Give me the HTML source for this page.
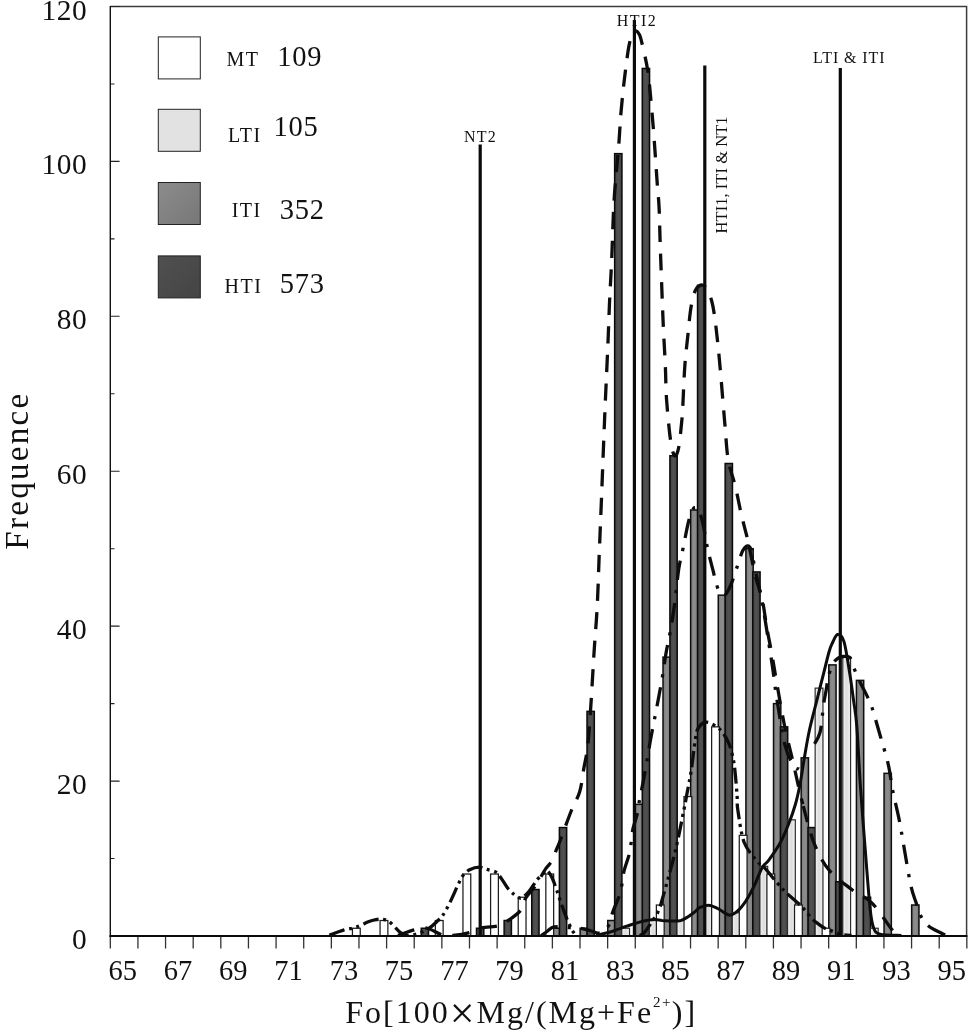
<!DOCTYPE html>
<html><head><meta charset="utf-8"><title>Fo histogram</title>
<style>html,body{margin:0;padding:0;background:#fff}svg{display:block;will-change:transform;filter:blur(0.4px)}text{font-family:"Liberation Serif",serif;fill:#111}</style></head><body>
<svg width="969" height="1033" viewBox="0 0 969 1033">
<defs>
<linearGradient id="gI" x1="0" x2="1" y1="0" y2="0"><stop offset="0" stop-color="#7c7c7c"/><stop offset="0.5" stop-color="#8e8e8e"/><stop offset="1" stop-color="#7c7c7c"/></linearGradient>
<linearGradient id="gH" x1="0" x2="1" y1="0" y2="0"><stop offset="0" stop-color="#434343"/><stop offset="0.5" stop-color="#525252"/><stop offset="1" stop-color="#434343"/></linearGradient>
<linearGradient id="gL" x1="0" x2="1" y1="0" y2="0"><stop offset="0" stop-color="#f2f2f2"/><stop offset="0.5" stop-color="#dcdcdc"/><stop offset="1" stop-color="#f2f2f2"/></linearGradient>
<linearGradient id="gM" x1="0" x2="1" y1="0" y2="0"><stop offset="0" stop-color="#fff"/><stop offset="1" stop-color="#fff"/></linearGradient>
<linearGradient id="sI" x1="0" x2="1" y1="0" y2="1"><stop offset="0" stop-color="#8c8c8c"/><stop offset="1" stop-color="#777"/></linearGradient>
<linearGradient id="sH" x1="0" x2="1" y1="0" y2="1"><stop offset="0" stop-color="#505050"/><stop offset="1" stop-color="#444"/></linearGradient>
</defs>
<rect width="969" height="1033" fill="#fff"/>
<g fill="none">
<path d="M110.3 6.6H966.6V936.0" stroke="#3c3c3c" stroke-width="1.5"/>
<path d="M110.30 936.0v12.5M137.93 936.0v12.5M165.56 936.0v12.5M193.19 936.0v12.5M220.82 936.0v12.5M248.45 936.0v12.5M276.08 936.0v12.5M303.71 936.0v12.5M331.34 936.0v12.5M358.97 936.0v12.5M386.60 936.0v12.5M414.23 936.0v12.5M441.86 936.0v12.5M469.49 936.0v12.5M497.12 936.0v12.5M524.75 936.0v12.5M552.38 936.0v12.5M580.01 936.0v12.5M607.64 936.0v12.5M635.27 936.0v12.5M662.90 936.0v12.5M690.53 936.0v12.5M718.16 936.0v12.5M745.79 936.0v12.5M773.42 936.0v12.5M801.05 936.0v12.5M828.68 936.0v12.5M856.31 936.0v12.5M883.94 936.0v12.5M911.57 936.0v12.5M939.20 936.0v12.5M966.83 936.0v12.5" stroke="#333" stroke-width="1.3"/>
<path d="M110.3 936.00h9.3M110.3 858.54h4.2M110.3 781.08h9.3M110.3 703.62h4.2M110.3 626.16h9.3M110.3 548.70h4.2M110.3 471.24h9.3M110.3 393.78h4.2M110.3 316.32h9.3M110.3 238.86h4.2M110.3 161.40h9.3M110.3 83.94h4.2M110.3 6.48h9.3" stroke="#222" stroke-width="1.1"/>
</g>
<g>
<rect x="552.48" y="928.25" width="7.30" height="7.75" fill="url(#gI)" stroke="#0e0e0e" stroke-width="1.5"/>
<rect x="580.11" y="928.25" width="7.30" height="7.75" fill="url(#gI)" stroke="#0e0e0e" stroke-width="1.5"/>
<rect x="607.74" y="920.51" width="7.30" height="15.49" fill="url(#gI)" stroke="#0e0e0e" stroke-width="1.5"/>
<rect x="635.37" y="804.32" width="7.30" height="131.68" fill="url(#gI)" stroke="#0e0e0e" stroke-width="1.5"/>
<rect x="663.00" y="657.14" width="7.30" height="278.86" fill="url(#gI)" stroke="#0e0e0e" stroke-width="1.5"/>
<rect x="690.63" y="509.97" width="7.30" height="426.03" fill="url(#gI)" stroke="#0e0e0e" stroke-width="1.5"/>
<rect x="718.26" y="595.18" width="7.30" height="340.82" fill="url(#gI)" stroke="#0e0e0e" stroke-width="1.5"/>
<rect x="745.89" y="548.70" width="7.30" height="387.30" fill="url(#gI)" stroke="#0e0e0e" stroke-width="1.5"/>
<rect x="773.52" y="703.62" width="7.30" height="232.38" fill="url(#gI)" stroke="#0e0e0e" stroke-width="1.5"/>
<rect x="801.15" y="757.84" width="7.30" height="178.16" fill="url(#gI)" stroke="#0e0e0e" stroke-width="1.5"/>
<rect x="828.78" y="664.89" width="7.30" height="271.11" fill="url(#gI)" stroke="#0e0e0e" stroke-width="1.5"/>
<rect x="856.41" y="680.38" width="7.30" height="255.62" fill="url(#gI)" stroke="#0e0e0e" stroke-width="1.5"/>
<rect x="884.04" y="773.33" width="7.30" height="162.67" fill="url(#gI)" stroke="#0e0e0e" stroke-width="1.5"/>
<rect x="911.67" y="905.02" width="7.30" height="30.98" fill="url(#gI)" stroke="#0e0e0e" stroke-width="1.5"/>
<rect x="421.23" y="928.25" width="7.30" height="7.75" fill="url(#gH)" stroke="#0a0a0a" stroke-width="1.5"/>
<rect x="476.49" y="928.25" width="7.30" height="7.75" fill="url(#gH)" stroke="#0a0a0a" stroke-width="1.5"/>
<rect x="504.12" y="920.51" width="7.30" height="15.49" fill="url(#gH)" stroke="#0a0a0a" stroke-width="1.5"/>
<rect x="531.75" y="889.52" width="7.30" height="46.48" fill="url(#gH)" stroke="#0a0a0a" stroke-width="1.5"/>
<rect x="559.38" y="827.56" width="7.30" height="108.44" fill="url(#gH)" stroke="#0a0a0a" stroke-width="1.5"/>
<rect x="587.01" y="711.37" width="7.30" height="224.63" fill="url(#gH)" stroke="#0a0a0a" stroke-width="1.5"/>
<rect x="614.64" y="153.65" width="7.30" height="782.35" fill="url(#gH)" stroke="#0a0a0a" stroke-width="1.5"/>
<rect x="642.27" y="68.45" width="7.30" height="867.55" fill="url(#gH)" stroke="#0a0a0a" stroke-width="1.5"/>
<rect x="669.90" y="455.75" width="7.30" height="480.25" fill="url(#gH)" stroke="#0a0a0a" stroke-width="1.5"/>
<rect x="697.53" y="285.34" width="7.30" height="650.66" fill="url(#gH)" stroke="#0a0a0a" stroke-width="1.5"/>
<rect x="725.16" y="463.49" width="7.30" height="472.51" fill="url(#gH)" stroke="#0a0a0a" stroke-width="1.5"/>
<rect x="752.79" y="571.94" width="7.30" height="364.06" fill="url(#gH)" stroke="#0a0a0a" stroke-width="1.5"/>
<rect x="780.42" y="726.86" width="7.30" height="209.14" fill="url(#gH)" stroke="#0a0a0a" stroke-width="1.5"/>
<rect x="808.05" y="827.56" width="7.30" height="108.44" fill="url(#gH)" stroke="#0a0a0a" stroke-width="1.5"/>
<rect x="835.68" y="881.78" width="7.30" height="54.22" fill="url(#gH)" stroke="#0a0a0a" stroke-width="1.5"/>
<rect x="863.31" y="897.27" width="7.30" height="38.73" fill="url(#gH)" stroke="#0a0a0a" stroke-width="1.5"/>
<rect x="621.74" y="928.25" width="7.80" height="7.75" fill="url(#gL)" stroke="#2c2c2c" stroke-width="1.2"/>
<rect x="649.37" y="920.51" width="7.80" height="15.49" fill="url(#gL)" stroke="#2c2c2c" stroke-width="1.2"/>
<rect x="677.00" y="920.51" width="7.80" height="15.49" fill="url(#gL)" stroke="#2c2c2c" stroke-width="1.2"/>
<rect x="704.63" y="905.02" width="7.80" height="30.98" fill="url(#gL)" stroke="#2c2c2c" stroke-width="1.2"/>
<rect x="732.26" y="912.76" width="7.80" height="23.24" fill="url(#gL)" stroke="#2c2c2c" stroke-width="1.2"/>
<rect x="759.89" y="866.29" width="7.80" height="69.71" fill="url(#gL)" stroke="#2c2c2c" stroke-width="1.2"/>
<rect x="787.52" y="819.81" width="7.80" height="116.19" fill="url(#gL)" stroke="#2c2c2c" stroke-width="1.2"/>
<rect x="815.15" y="688.13" width="7.80" height="247.87" fill="url(#gL)" stroke="#2c2c2c" stroke-width="1.2"/>
<rect x="842.78" y="657.14" width="7.80" height="278.86" fill="url(#gL)" stroke="#2c2c2c" stroke-width="1.2"/>
<rect x="870.41" y="928.25" width="7.80" height="7.75" fill="url(#gL)" stroke="#2c2c2c" stroke-width="1.2"/>
<rect x="352.44" y="928.25" width="7.80" height="7.75" fill="url(#gM)" stroke="#1c1c1c" stroke-width="1.25"/>
<rect x="380.07" y="920.51" width="7.80" height="15.49" fill="url(#gM)" stroke="#1c1c1c" stroke-width="1.25"/>
<rect x="435.33" y="920.51" width="7.80" height="15.49" fill="url(#gM)" stroke="#1c1c1c" stroke-width="1.25"/>
<rect x="462.96" y="874.03" width="7.80" height="61.97" fill="url(#gM)" stroke="#1c1c1c" stroke-width="1.25"/>
<rect x="490.59" y="874.03" width="7.80" height="61.97" fill="url(#gM)" stroke="#1c1c1c" stroke-width="1.25"/>
<rect x="518.22" y="897.27" width="7.80" height="38.73" fill="url(#gM)" stroke="#1c1c1c" stroke-width="1.25"/>
<rect x="545.85" y="874.03" width="7.80" height="61.97" fill="url(#gM)" stroke="#1c1c1c" stroke-width="1.25"/>
<rect x="656.37" y="905.02" width="7.80" height="30.98" fill="url(#gM)" stroke="#1c1c1c" stroke-width="1.25"/>
<rect x="684.00" y="796.57" width="7.80" height="139.43" fill="url(#gM)" stroke="#1c1c1c" stroke-width="1.25"/>
<rect x="711.63" y="726.86" width="7.80" height="209.14" fill="url(#gM)" stroke="#1c1c1c" stroke-width="1.25"/>
<rect x="739.26" y="835.30" width="7.80" height="100.70" fill="url(#gM)" stroke="#1c1c1c" stroke-width="1.25"/>
<rect x="766.89" y="874.03" width="7.80" height="61.97" fill="url(#gM)" stroke="#1c1c1c" stroke-width="1.25"/>
<rect x="794.52" y="905.02" width="7.80" height="30.98" fill="url(#gM)" stroke="#1c1c1c" stroke-width="1.25"/>
<rect x="822.15" y="928.25" width="7.80" height="7.75" fill="url(#gM)" stroke="#1c1c1c" stroke-width="1.25"/>
</g>
<path d="M110.3 6V937.0" stroke="#111" stroke-width="1.4" fill="none"/>
<path d="M109.6 936.0H967.4" stroke="#0a0a0a" stroke-width="2" fill="none"/>
<g stroke="#0a0a0a" stroke-width="3.2" fill="none">
<path d="M480.2 144.5V936.0"/>
<path d="M634.4 20V936.0"/>
<path d="M704.8 65.5V936.0"/>
<path d="M840.3 68V936.0"/>
</g>
<g fill="none" stroke="#0d0d0d" stroke-width="3.3" stroke-linejoin="round">
<path d="M635.3 31.0C634.0 31.3 632.7 32.6 631.5 36.0C630.3 39.4 629.2 43.8 628.0 51.6C626.8 59.4 625.2 72.3 624.0 82.6C622.8 92.9 621.8 103.2 620.9 113.5C620.0 123.8 619.9 130.1 618.8 144.5C617.7 158.9 615.3 180.4 614.1 200.0C612.9 219.6 612.4 244.8 611.6 262.0C610.8 279.2 610.1 289.2 609.5 303.0C608.9 316.8 608.6 328.3 607.9 344.5C607.2 360.7 606.2 382.1 605.4 400.0C604.6 417.9 604.0 434.4 603.3 451.6C602.6 468.8 602.0 486.0 601.3 503.2C600.6 520.4 599.9 537.6 599.2 554.8C598.5 572.0 598.1 590.3 597.2 606.4C596.4 622.5 595.1 635.5 594.1 651.6C593.1 667.7 592.0 687.7 591.0 703.2C590.0 718.7 589.1 733.5 587.9 744.5C586.7 755.5 585.1 761.3 583.7 769.2C582.3 777.1 581.7 785.1 579.6 792.0C577.5 798.9 574.6 802.5 571.4 810.5C568.2 818.5 562.9 833.4 560.4 840.0C557.9 846.6 557.7 846.5 556.3 849.9C554.9 853.3 554.0 857.4 552.2 860.6C550.4 863.8 548.4 864.8 545.6 868.9C542.9 873.0 539.0 880.6 535.7 885.4C532.4 890.2 528.3 893.7 525.8 897.8C523.3 901.9 523.8 906.4 520.8 910.2C517.8 914.1 511.5 918.3 507.6 920.9C503.8 923.5 502.6 924.7 497.7 925.9C492.8 927.1 482.6 927.2 477.9 928.3C473.2 929.4 473.7 931.3 469.6 932.5C465.5 933.7 457.6 935.0 453.1 935.4C448.6 935.8 446.2 936.0 442.4 935.0C438.5 934.0 433.5 930.4 430.0 929.2C426.5 928.0 424.1 927.6 421.4 927.7C418.7 927.8 416.6 929.1 414.0 929.9C411.4 930.7 408.7 931.6 406.0 932.5C403.3 933.4 399.3 935.0 398.0 935.5" stroke-dasharray="17.2 11.4" stroke-dashoffset="16.6"/>
<path d="M635.3 31.0C636.5 30.7 638.0 32.3 639.0 34.0C640.0 35.7 640.0 35.3 641.5 41.3C643.0 47.3 646.2 60.6 647.7 70.2C649.2 79.8 649.9 89.4 650.8 99.0C651.7 108.6 652.5 118.3 653.3 128.0C654.1 137.7 654.7 147.3 655.4 156.9C656.1 166.5 656.8 177.6 657.4 185.8C658.0 194.0 658.5 196.8 659.0 206.0C659.5 215.2 659.7 228.2 660.1 241.0C660.5 253.8 661.1 268.8 661.6 282.6C662.1 296.4 662.6 310.1 663.2 323.8C663.8 337.5 664.7 352.3 665.3 365.0C665.9 377.7 665.7 387.5 666.6 400.0C667.5 412.5 669.2 430.7 670.5 440.0C671.8 449.3 673.2 454.4 674.6 455.7C676.0 456.9 677.5 453.4 678.7 447.5C679.9 441.6 681.1 427.5 681.8 420.6C682.5 413.8 682.3 415.7 682.8 406.4C683.3 397.1 684.0 377.1 684.9 365.0C685.8 352.9 687.0 343.6 688.0 334.0C689.0 324.4 689.8 314.5 691.0 307.3C692.2 300.1 693.5 294.5 695.2 290.8C696.9 287.1 699.4 285.3 701.4 285.0C703.4 284.7 705.3 286.3 707.0 289.0C708.7 291.7 710.4 296.2 711.7 301.0C713.0 305.8 713.8 310.4 714.8 317.6C715.8 324.9 716.9 335.2 717.9 344.5C718.9 353.8 719.8 363.8 720.6 373.4C721.5 383.0 722.2 393.1 723.0 402.0C723.8 410.9 724.2 417.2 725.1 426.8C726.0 436.4 726.5 449.9 728.2 459.9C729.9 469.9 733.2 477.4 735.4 486.7C737.6 496.0 739.5 506.7 741.6 515.6C743.7 524.6 745.4 530.0 747.8 540.4C750.2 550.8 753.4 568.1 755.8 577.7C758.2 587.3 760.1 589.4 762.0 598.0C763.9 606.6 765.4 619.8 767.1 629.3C768.8 638.8 770.5 646.4 772.0 655.0C773.5 663.6 774.3 668.9 776.4 680.8C778.5 692.7 781.9 712.8 784.6 726.2C787.4 739.6 789.9 748.4 792.9 761.4C795.9 774.4 799.2 790.5 802.8 804.2" stroke-dasharray="16.5 11.8" stroke-dashoffset="0"/>
<path d="M802.8 804.2C806.4 817.9 809.9 832.7 814.3 843.7C818.7 854.7 822.7 862.3 829.0 870.0C835.3 877.7 844.9 884.2 852.0 889.7C859.1 895.2 865.2 896.3 871.8 902.9C878.4 909.5 887.4 923.8 891.6 929.2C895.8 934.6 896.1 934.5 897.0 935.5" stroke-dasharray="16.5 11.8" stroke-dashoffset="26.3"/>
<path d="M541.0 935.6C542.0 934.9 545.1 932.9 547.0 931.5C548.9 930.1 550.4 928.3 552.2 927.5C554.0 926.7 555.4 926.7 558.0 926.7C560.6 926.7 564.2 927.2 568.0 927.5C571.8 927.8 576.9 927.8 580.6 928.3C584.3 928.8 587.1 929.7 590.0 930.5C592.9 931.3 596.0 933.0 598.2 933.1C600.4 933.2 601.2 932.4 603.0 931.0C604.8 929.6 607.3 928.0 608.9 924.9C610.5 921.8 611.0 917.1 612.6 912.5C614.2 907.9 617.2 901.6 618.8 897.0C620.3 892.4 621.0 888.9 621.9 884.6C622.8 880.3 622.8 876.2 624.0 871.2C625.2 866.2 627.9 859.5 629.1 854.7C630.3 849.9 630.6 846.4 631.2 842.3C631.8 838.2 631.7 834.8 632.7 830.0C633.7 825.2 636.3 818.4 637.4 813.4C638.5 808.4 638.5 805.8 639.5 800.2C640.5 794.6 642.3 786.5 643.6 779.6C644.9 772.7 646.1 765.9 647.3 759.0C648.5 752.1 649.5 745.4 650.8 738.3C652.1 731.2 653.6 723.8 655.0 716.6C656.4 709.4 657.8 702.0 659.1 695.0C660.4 688.0 661.6 681.5 662.8 674.3C664.0 667.1 665.0 658.8 666.3 651.6C667.6 644.4 669.0 638.9 670.4 631.0C671.8 623.1 673.2 614.3 674.6 604.0C676.0 593.7 677.3 578.6 678.7 569.2C680.1 559.8 681.7 555.2 683.2 547.6C684.8 540.0 686.6 529.7 688.0 523.8C689.4 517.9 690.3 514.8 691.5 512.0C692.7 509.2 693.9 507.3 695.2 507.3C696.5 507.3 698.1 508.9 699.5 512.0C700.9 515.1 702.0 519.9 703.4 526.0C704.8 532.1 706.0 541.4 707.6 548.6C709.2 555.8 710.9 562.3 712.7 569.2C714.5 576.1 716.5 585.7 718.5 590.0C720.5 594.3 722.9 596.0 725.0 595.0C727.1 594.0 729.1 588.8 731.3 583.7C733.4 578.6 736.0 570.0 737.9 564.5C739.8 559.0 741.1 553.8 742.7 550.7C744.4 547.6 746.3 546.0 747.8 546.0C749.3 546.0 750.4 547.4 751.5 551.0C752.6 554.6 753.1 559.9 754.7 567.4C756.3 574.9 759.2 587.7 760.9 596.3C762.6 604.9 763.5 609.7 765.0 619.0C766.5 628.3 768.8 643.1 770.2 652.0C771.6 660.9 772.2 664.6 773.3 672.6C774.4 680.6 775.0 687.9 777.0 700.0C779.0 712.1 782.2 734.0 785.0 745.0C787.8 756.0 791.7 762.0 794.0 766.0C796.3 770.0 798.2 768.5 799.0 769.0" stroke-dasharray="19.5 10 3.2 10"/>
<path d="M812.6 747.0C813.9 744.5 818.3 739.1 820.1 732.1C821.9 725.1 822.5 712.0 823.5 705.0C824.5 698.0 825.4 694.9 826.2 690.1C827.0 685.3 827.4 680.7 828.5 676.3C829.6 671.9 831.5 666.7 833.0 663.7C834.5 660.7 836.1 659.5 837.8 658.3C839.5 657.1 841.2 656.6 843.2 656.5C845.2 656.4 848.1 655.5 850.0 657.6C851.9 659.7 852.7 665.0 854.3 668.9C855.9 672.8 857.3 676.2 859.4 680.7C861.5 685.2 864.8 691.2 866.9 695.6C869.0 700.0 869.6 700.4 871.8 707.0C874.0 713.6 877.2 725.4 880.0 735.0C882.8 744.6 886.2 755.4 888.3 764.7C890.4 774.0 890.9 781.5 892.8 791.0C894.7 800.5 897.5 811.1 899.5 821.4C901.5 831.7 903.1 842.1 905.0 853.0C906.9 863.9 909.2 878.4 911.1 886.7C913.0 895.0 914.5 897.9 916.1 902.7C917.7 907.6 918.6 911.9 920.7 915.8C922.8 919.7 925.0 923.0 928.5 925.9C932.0 928.8 938.5 931.6 941.6 933.2C944.7 934.8 946.1 935.2 947.0 935.6" stroke-dasharray="19.5 10 3.2 10" stroke-dashoffset="-3.7"/>
<path d="M329.4 935.3C331.8 934.4 339.6 931.2 344.1 929.9C348.6 928.5 352.2 928.6 356.2 927.2C360.2 925.9 365.0 923.1 368.3 921.8C371.6 920.5 373.8 920.0 376.0 919.6C378.2 919.2 379.9 919.1 381.7 919.2C383.5 919.4 385.4 919.8 387.0 920.5C388.6 921.2 388.9 921.2 391.1 923.2C393.4 925.2 397.7 930.6 400.5 932.6C403.3 934.6 405.1 935.1 408.0 935.3C410.9 935.4 414.6 934.6 418.0 933.5C421.4 932.4 425.4 930.7 428.7 928.5C432.0 926.3 435.7 922.6 438.0 920.5C440.3 918.4 440.4 919.0 442.4 916.0C444.4 913.0 447.1 908.2 449.8 902.7C452.6 897.2 456.7 887.4 458.9 882.9C461.1 878.4 461.2 877.7 463.0 875.5C464.8 873.3 466.9 871.1 469.6 869.7C472.4 868.3 476.6 867.2 479.5 867.2C482.4 867.2 484.2 868.6 487.0 869.4C489.8 870.2 493.7 870.8 496.0 872.2C498.3 873.6 499.1 875.4 501.0 878.0C502.9 880.6 505.4 885.1 507.6 887.9C509.8 890.6 512.3 892.9 514.2 894.5C516.1 896.1 517.8 897.3 519.2 897.8C520.6 898.3 520.9 898.6 522.5 897.5C524.1 896.4 526.6 894.2 529.1 891.2C531.6 888.2 534.8 882.6 537.3 879.6C539.8 876.6 542.4 874.5 543.9 873.0C545.4 871.5 545.5 870.6 546.4 870.5C547.2 870.4 548.0 871.2 549.0 872.5C550.0 873.8 550.9 874.9 552.2 878.0C553.6 881.1 555.5 886.5 557.1 891.2C558.8 895.9 560.4 901.3 562.1 906.0C563.8 910.7 565.5 915.3 567.1 919.3C568.8 923.3 570.5 927.3 572.0 930.0C573.5 932.7 575.4 934.5 576.1 935.4" stroke-dasharray="16 4.6 3 4.6 3 4.6"/>
<path d="M640.0 935.5C640.7 935.0 642.1 935.2 644.4 932.5C646.7 929.8 651.6 922.2 653.7 919.0C655.9 915.8 656.3 915.4 657.3 913.4C658.3 911.4 659.1 909.4 659.9 907.2C660.7 905.1 660.7 904.7 661.9 900.5C663.1 896.3 664.8 890.4 667.1 882.0C669.4 873.6 672.8 861.9 675.6 850.0C678.4 838.1 681.9 819.8 683.8 810.5C685.7 801.2 685.7 800.5 686.9 794.0C688.1 787.5 689.7 780.2 691.1 771.3C692.5 762.4 694.0 747.6 695.2 740.4C696.4 733.2 696.4 731.0 698.3 728.0C700.2 725.0 703.4 722.4 706.5 722.2C709.6 722.0 714.1 725.2 716.9 727.0C719.6 728.8 720.9 730.1 723.0 733.0C725.1 735.9 727.6 740.0 729.3 744.5C731.0 749.0 732.4 754.9 733.4 760.0C734.4 765.1 734.8 769.4 735.4 775.4C736.0 781.4 736.7 790.1 737.1 796.0C737.5 801.9 736.7 802.8 737.9 810.5C739.1 818.2 741.0 834.0 744.2 842.5C747.5 851.0 754.1 857.4 757.4 861.5C760.7 865.6 760.7 863.6 764.0 867.2C767.3 870.8 773.5 878.6 777.2 882.9C780.9 887.2 782.3 888.9 786.3 892.8C790.3 896.6 797.0 901.9 801.1 906.0C805.2 910.1 808.5 914.9 811.0 917.6C813.5 920.3 814.0 920.7 816.2 922.4C818.4 924.1 821.8 926.6 824.2 927.9C826.6 929.2 828.3 929.6 830.4 930.4C832.5 931.2 834.5 932.2 836.6 932.9C838.7 933.6 840.3 934.3 842.8 934.7C845.3 935.1 850.0 935.3 851.5 935.4" stroke-dasharray="16 4.6 3 4.6 3 4.6"/>
<path d="M596.0 935.6C596.7 935.4 597.6 935.1 600.0 934.5C602.4 933.9 606.9 933.0 610.3 932.0C613.7 931.0 617.1 929.5 620.6 928.3C624.1 927.1 627.5 925.8 631.0 924.7C634.5 923.6 637.5 922.5 641.3 921.6C645.1 920.8 650.3 919.8 653.7 919.6C657.1 919.4 658.8 920.1 661.9 920.4C665.0 920.6 669.1 921.1 672.2 921.1C675.3 921.1 677.9 921.3 680.5 920.6C683.1 919.9 685.3 918.5 687.7 917.0C690.1 915.5 692.9 913.3 694.9 911.8C696.9 910.2 697.3 908.8 699.6 907.7C701.9 906.6 705.7 905.1 708.7 905.2C711.7 905.3 714.3 906.9 717.7 908.5C721.1 910.1 726.0 914.7 729.3 915.1C732.6 915.5 734.9 913.3 737.6 911.0C740.4 908.7 743.0 905.2 745.8 901.1C748.5 897.0 751.4 891.8 754.1 886.2C756.8 880.6 759.8 871.8 762.2 867.5C764.7 863.2 765.8 864.4 768.8 860.2C771.8 856.0 777.1 848.5 780.4 842.5C783.7 836.5 786.1 830.2 788.6 824.0C791.1 817.8 793.4 811.3 795.2 805.0C797.1 798.7 798.2 793.5 799.7 786.0C801.2 778.5 802.4 769.3 804.0 760.0C805.6 750.7 807.3 740.1 809.4 730.3C811.5 720.5 814.4 710.3 816.6 701.4C818.8 692.5 820.7 684.9 822.8 676.7C824.9 668.5 827.4 657.6 829.0 652.0C830.6 646.4 831.0 645.9 832.4 643.0C833.8 640.1 835.7 634.9 837.6 634.6C839.5 634.3 841.9 635.1 843.9 641.4C845.9 647.7 848.0 662.6 849.6 672.6C851.2 682.6 852.5 692.5 853.7 701.4C854.9 710.3 855.7 712.4 856.8 726.2C857.9 740.1 858.9 763.8 860.3 784.5C861.7 805.2 863.6 829.5 865.3 850.3C866.9 871.1 868.8 896.6 870.2 909.5C871.6 922.4 871.9 923.5 873.5 927.6C875.1 931.7 875.4 932.9 880.0 934.2C884.6 935.5 897.8 935.2 901.4 935.4" stroke-width="3"/>
</g>
<g stroke="#222" stroke-width="1">
<rect x="158.3" y="36.9" width="42" height="42" fill="#fff"/>
<rect x="158.3" y="109.3" width="42" height="42" fill="#e2e2e2"/>
<rect x="158.3" y="182.5" width="42" height="42" fill="url(#sI)"/>
<rect x="158.3" y="255.9" width="42" height="42" fill="url(#sH)"/>
</g>
<g font-size="20" letter-spacing="1.5">
<text x="226.4" y="66">MT</text>
<text x="227.9" y="141.6">LTI</text>
<text x="231.7" y="216.9">ITI</text>
<text x="224.5" y="292.8">HTI</text>
</g>
<g font-size="28.5" letter-spacing="0.8">
<text x="277.2" y="66">109</text>
<text x="273.5" y="136.3">105</text>
<text x="279.7" y="219">352</text>
<text x="279.7" y="292.8">573</text>
</g>
<g font-size="29.4" text-anchor="end" letter-spacing="0.6">
<text x="87.4" y="949.0">0</text>
<text x="87.4" y="794.1">20</text>
<text x="87.4" y="639.2">40</text>
<text x="87.4" y="484.2">60</text>
<text x="87.4" y="329.3">80</text>
<text x="87.4" y="174.4">100</text>
<text x="87.4" y="19.5">120</text>
</g>
<g font-size="28.5" text-anchor="middle">
<text x="122.8" y="980.4">65</text>
<text x="178.1" y="980.4">67</text>
<text x="233.3" y="980.4">69</text>
<text x="288.6" y="980.4">71</text>
<text x="343.9" y="980.4">73</text>
<text x="399.1" y="980.4">75</text>
<text x="454.4" y="980.4">77</text>
<text x="509.6" y="980.4">79</text>
<text x="564.9" y="980.4">81</text>
<text x="620.2" y="980.4">83</text>
<text x="675.4" y="980.4">85</text>
<text x="730.7" y="980.4">87</text>
<text x="785.9" y="980.4">89</text>
<text x="841.2" y="980.4">91</text>
<text x="896.5" y="980.4">93</text>
<text x="951.7" y="980.4">95</text>
</g>
<text x="345.3" y="1022.5" font-size="32" letter-spacing="2.0">Fo[100<tspan font-size="44" dy="5.5">×</tspan><tspan dy="-5.5">Mg/(Mg+Fe</tspan><tspan font-size="15" dy="-16" letter-spacing="1.4">2+</tspan><tspan dy="16">)]</tspan></text>
<text transform="translate(27.9 470.7) rotate(-90)" text-anchor="middle" font-size="33" letter-spacing="2.3">Frequence</text>
<g font-size="16">
<text x="463.9" y="141.7" letter-spacing="1.3">NT2</text>
<text x="616.8" y="26.3" letter-spacing="1.4">HTI2</text>
<text x="813.1" y="62.8" letter-spacing="0.9">LTI &amp; ITI</text>
<text transform="translate(727.3 233.4) rotate(-90)" font-size="16.6">HTI1, ITI &amp; NT1</text>
</g>
</svg></body></html>
